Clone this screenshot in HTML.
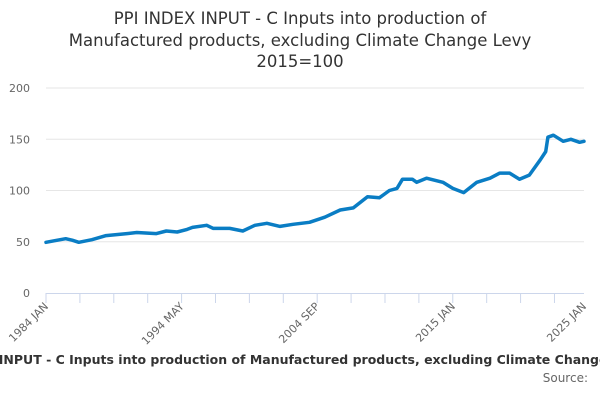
<!DOCTYPE html>
<html><head><meta charset="utf-8"><style>
body{margin:0;background:#fff;font-family:"Liberation Sans","DejaVu Sans",sans-serif}
svg{display:block}
</style></head><body>
<svg id="chart" width="600" height="400" font-family="DejaVu Sans, Liberation Sans, sans-serif">
<g fill="#333" font-size="16.5" text-anchor="middle">
<text x="300" y="24">PPI INDEX INPUT - C Inputs into production of</text>
<text x="300" y="46">Manufactured products, excluding Climate Change Levy</text>
<text x="300" y="67">2015=100</text>
</g>
<g id="grid"></g><g id="yticks"></g><g id="xaxis"></g><g id="series"></g>
<text x="284" y="364" text-anchor="middle" font-size="12.5" font-weight="bold" fill="#333">PPI INDEX INPUT - C Inputs into production of Manufactured products, excluding Climate Change Levy</text>
<text x="588" y="382" text-anchor="end" font-size="12" fill="#666">Source:</text>
</svg>
<script>
const months=[0,8,18,24,30,42,55,74,83,101,110,120,129,134,147,153,168,180,191,202,214,226,241,255,269,281,294,305,314,321,326,335,339,348,363,372,382,394,406,415,424,433,442,452,457,459,464,473,480,488,492];
const values=[49.5,51,53,51.5,49.5,52,56,58,59,58,60.5,59.5,62,64,66,63,63,60.5,66,68,65,67,69,74,81,83,94,93,100,102,111,111,108,112,108,102,98,108,112,117,117,111,115,130,138,152,154,148,150,147,148];
const yTicks=[0,50,100,150,200];
const xLabels=["1984 JAN","1994 MAY","2004 SEP","2015 JAN","2025 JAN"];
const xLabelMonths=[0,124,248,372,492];
const X0=46,X1=584,Y0=293,Y1=88;
const xs=m=>X0+(X1-X0)*m/492, ys=v=>Y0-(Y0-Y1)*v/200;
const NS="http://www.w3.org/2000/svg";
function mk(t,a,p){const e=document.createElementNS(NS,t);for(const k in a)e.setAttribute(k,a[k]);p.appendChild(e);return e;}
const grid=document.getElementById('grid'),yt=document.getElementById('yticks'),xa=document.getElementById('xaxis'),se=document.getElementById('series');
yTicks.forEach(v=>{
 if(v>0){const l=mk('line',{x1:X0,x2:X1,y1:ys(v),y2:ys(v),stroke:'#e6e6e6'},grid);
 
 }
 const t=mk('text',{x:30,y:ys(v)+4,'text-anchor':'end','font-size':11,fill:'#666'},yt);t.textContent=v;
 
 
});
const ax=mk('line',{x1:X0,x2:X1,y1:Y0+0.5,y2:Y0+0.5,stroke:'#ccd6eb'},xa);


for(let m=0;m<=492;m+=31){const x=Math.min(xs(m),X1-0.5);const tk=mk('line',{x1:x,x2:x,y1:Y0,y2:Y0+10,stroke:'#ccd6eb'},xa);
 
 }
xLabels.forEach((s,i)=>{const x=Math.min(xs(xLabelMonths[i]),X1);
 const t=mk('text',{x:x+3,y:Y0+14,'text-anchor':'end','font-size':11,fill:'#666',transform:`rotate(-45 ${x+3} ${Y0+14})`},xa);t.textContent=s;
 
 });
const d=months.map((m,i)=>(i?'L':'M')+xs(m).toFixed(1)+' '+ys(values[i]).toFixed(1)).join(' ');
const p=mk('path',{d:d,fill:'none',stroke:'#0a7dc4','stroke-width':3.5,'stroke-linejoin':'round','stroke-linecap':'round'},se);


</script>
</body></html>
